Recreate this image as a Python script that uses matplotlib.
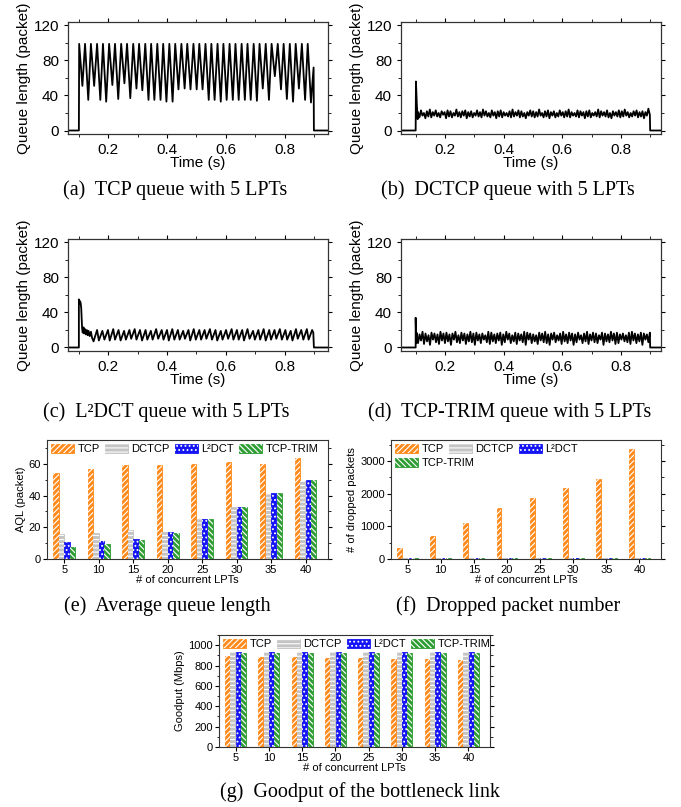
import numpy as np
import matplotlib
matplotlib.use("Agg")
import matplotlib.pyplot as plt
from matplotlib.patches import Patch
from matplotlib.ticker import MultipleLocator

plt.rcParams['font.family'] = ['Liberation Sans', 'DejaVu Sans']
plt.rcParams['hatch.linewidth'] = 0.8

# ---------------- queue traces ----------------
# (a) TCP: sawtooth peaks / troughs
tcp_peak_t = [0.101, 0.121, 0.141, 0.162, 0.182, 0.203, 0.223, 0.244, 0.264, 0.285,
              0.305, 0.326, 0.346, 0.367, 0.387, 0.408, 0.428, 0.449, 0.469, 0.490,
              0.510, 0.531, 0.551, 0.572, 0.592, 0.613, 0.633, 0.654, 0.674, 0.695,
              0.715, 0.736, 0.756, 0.777, 0.797, 0.818, 0.838, 0.859, 0.879]
tcp_peak_q = [99] * 39
tcp_trough_t = [0.112, 0.132, 0.152, 0.173, 0.193, 0.214, 0.234, 0.255, 0.275, 0.296,
                0.316, 0.337, 0.357, 0.378, 0.398, 0.419, 0.439, 0.460, 0.480, 0.501,
                0.521, 0.542, 0.562, 0.583, 0.603, 0.624, 0.644, 0.665, 0.685, 0.706,
                0.726, 0.747, 0.767, 0.788, 0.808, 0.829, 0.849, 0.870, 0.890]
tcp_trough_q = [51, 35, 51, 35, 33, 52, 36, 54, 37, 48, 46, 35, 35, 35, 33, 33, 47, 48, 47, 47,
                47, 35, 35, 33, 35, 35, 35, 35, 35, 34, 48, 35, 62, 47, 36, 33, 48, 35, 32]
tcp_end_t = [0.899, 0.900, 0.960]
tcp_end_q = [72, 0, 0]

# (b) DCTCP
dctcp_head_t = [0.04, 0.100, 0.101, 0.104, 0.107]
dctcp_head_q = [0, 0, 56, 30, 13]
dctcp_band = [int(v) for v in (
    "21 15 23 17 20 14 22 16 24 15 21 17 23 16 20 15 22 18 21 14 23 16 22 15 20 17 24 16 21 15 "
    "22 17 23 14 21 16 22 15 20 17 23 16 21 15 24 17 22 16 20 15 23 17 21 14 22 16 23 15 21 17 "
    "20 16 22 15 24 16 21 17 23 15 22 16 20 14 21 17 23 16 22 15 21 16 24 17 20 15 22 16 23 14 "
    "21 17 22 15 20 16 23 17 21 15 22 16 24 15 21 17 20 16 23 15 22 17 21 14 22 16 23 15 20 17 "
    "21 16 24 15 22 17 21 16 23 15 20 14 22 17 21 16 23 15 22 16 24 17 21 15 20 16 22 17 23 15 "
    "21 16 22 14 21 17 25 18").split()]
dctcp_band_t0, dctcp_band_t1 = 0.108, 0.899
dctcp_tail_t = [0.900, 0.960]
dctcp_tail_q = [0, 0]

# (c) L2DCT
l2_head_t = [0.05, 0.100, 0.100, 0.102, 0.104, 0.106, 0.108, 0.111, 0.113, 0.116, 0.118,
             0.121, 0.124, 0.127, 0.130, 0.133, 0.137, 0.141, 0.145]
l2_head_q = [0, 0, 55, 50, 53, 51, 45, 22, 17, 23, 16, 21, 15, 20, 14, 19, 13, 18, 11]
l2_trough_t = [0.150, 0.168, 0.187, 0.205, 0.223, 0.242, 0.260, 0.278, 0.296, 0.315,
               0.333, 0.351, 0.370, 0.388, 0.406, 0.425, 0.443, 0.461, 0.479, 0.498,
               0.516, 0.534, 0.553, 0.571, 0.589, 0.608, 0.626, 0.644, 0.662, 0.681,
               0.699, 0.717, 0.736, 0.754, 0.772, 0.791, 0.809, 0.827, 0.845, 0.864, 0.882]
l2_trough_q = [7, 8, 9, 8, 9, 8, 9, 10, 9, 8, 9, 9, 10, 9, 8, 9, 9, 10, 8, 9, 9,
               10, 9, 8, 9, 10, 9, 9, 8, 10, 9, 9, 8, 9, 10, 9, 9, 8, 10, 9, 9]
l2_peak_t = [0.162, 0.180, 0.199, 0.217, 0.235, 0.254, 0.272, 0.290, 0.308, 0.327,
             0.345, 0.363, 0.382, 0.400, 0.418, 0.437, 0.455, 0.473, 0.491, 0.510,
             0.528, 0.546, 0.565, 0.583, 0.601, 0.620, 0.638, 0.656, 0.674, 0.693,
             0.711, 0.729, 0.748, 0.766, 0.784, 0.803, 0.821, 0.839, 0.857, 0.876, 0.894]
l2_peak_q = [20, 19, 20, 21, 20, 19, 20, 21, 20, 20, 19, 21, 20, 20, 21, 20, 19, 20, 21, 20, 20,
             21, 20, 19, 20, 21, 20, 20, 21, 19, 20, 21, 20, 20, 21, 20, 19, 21, 20, 21, 20]
l2_tail_t = [0.898, 0.900, 0.960]
l2_tail_q = [17, 0, 0]

# (d) TCP-TRIM
trim_head_t = [0.04, 0.100, 0.100, 0.102]
trim_head_q = [0, 0, 34, 5]
trim_band = [int(v) for v in (
    "17 5 15 8 18 4 16 7 14 3 17 9 16 6 15 4 18 8 16 5 17 7 15 3 16 9 18 6 14 5 "
    "17 8 16 4 15 7 18 6 16 3 17 8 15 5 16 9 14 6 18 4 17 7 15 5 16 8 17 3 15 6 "
    "18 9 16 5 14 7 17 4 16 8 15 6 18 3 17 9 16 5 15 7 14 4 17 8 16 6 18 5 15 3 "
    "16 9 17 6 14 8 16 4 18 7 15 5 17 8 16 3 15 6 17 9 14 5 16 7 18 4 15 8 17 6 "
    "16 5 14 9 17 3 16 7 15 6 18 8 16 4 17 5 15 9 16 7 14 6 17 4 18 8 16 5 15 7 "
    "17 3 16 9 15 6 17").split()]
trim_band_t0, trim_band_t1 = 0.103, 0.899
trim_tail_t = [0.900, 0.960]
trim_tail_q = [0, 0]

# ---------------- bar charts ----------------
lpts = ['5', '10', '15', '20', '25', '30', '35', '40']
schemes = ['TCP', 'DCTCP', 'L²DCT', 'TCP-TRIM']
aql_tcp = [54, 56.5, 59, 59.5, 60, 61, 60, 63.5]
aql_dctcp = [16, 16.5, 18.5, 17, 25.5, 33, 41, 49]
aql_l2dct = [11, 11.5, 12.5, 17, 25.5, 33, 41.5, 49.5]
aql_trim = [7.5, 9.5, 12, 16.5, 25.5, 33, 41.5, 49.5]

drop_tcp = [330, 700, 1100, 1570, 1880, 2190, 2440, 3370]
drop_dctcp = [40, 40, 40, 40, 40, 40, 40, 40]
drop_l2dct = [40, 40, 40, 40, 40, 40, 40, 40]
drop_trim = [35, 35, 35, 35, 35, 35, 35, 35]

gp_tcp = [890, 885, 880, 875, 870, 865, 860, 850]
gp_dctcp = [930, 930, 930, 930, 930, 930, 930, 930]
gp_l2dct = [935, 935, 935, 935, 935, 935, 935, 935]
gp_trim = [925, 925, 925, 925, 925, 925, 925, 925]

colors = ['#FF8A1C', '#C4C4C4', '#1414F5', '#2E9E34']
hatches = ['//////', '----', '....', '\\\\\\\\\\\\']

W, H = 681, 807
fig = plt.figure(figsize=(W / 100, H / 100), dpi=100)


def box(l, t, r, b):
    return [l / W, 1 - b / H, (r - l) / W, (b - t) / H]


def style_ts(ax, xlim):
    ax.set_xlim(*xlim)
    ax.set_ylim(-4, 124)
    ax.xaxis.set_major_locator(MultipleLocator(0.2))
    ax.xaxis.set_minor_locator(MultipleLocator(0.1))
    ax.yaxis.set_major_locator(MultipleLocator(40))
    ax.yaxis.set_minor_locator(MultipleLocator(20))
    ax.tick_params(which='both', direction='out', labelsize=11, top=True, right=True)
    ax.tick_params(which='major', length=3)
    ax.tick_params(which='minor', length=2)
    ax.set_xlabel('Time (s)', fontsize=11, labelpad=-1)
    ax.set_ylabel('Queue length (packet)', fontsize=11, labelpad=2)
    for s in ax.spines.values():
        s.set_linewidth(0.9)
        s.set_color('#333333')


def sawtooth(t0, q0, at, aq, bt, bq, t1, q1):
    xs, ys = list(t0), list(q0)
    for i in range(len(at)):
        xs += [at[i], bt[i]]
        ys += [aq[i], bq[i]]
    return xs + list(t1), ys + list(q1)


def band(t0, q0, vals, ta, tb, t1, q1):
    tt = np.linspace(ta, tb, len(vals))
    return list(t0) + list(tt) + list(t1), list(q0) + list(vals) + list(q1)


lw = 1.3
# (a)
ax = fig.add_axes(box(68, 22, 328, 134))
x, y = sawtooth([0.04, 0.100], [0, 0], tcp_peak_t, tcp_peak_q, tcp_trough_t, tcp_trough_q,
                tcp_end_t, tcp_end_q)
ax.plot(x, y, color='black', lw=lw)
style_ts(ax, (0.063, 0.948))

# (b)
ax = fig.add_axes(box(401, 22, 661, 134))
x, y = band(dctcp_head_t, dctcp_head_q, dctcp_band, dctcp_band_t0, dctcp_band_t1,
            dctcp_tail_t, dctcp_tail_q)
ax.plot(x, y, color='black', lw=lw)
style_ts(ax, (0.05, 0.937))

# (c)
ax = fig.add_axes(box(68, 239, 328, 351))
x, y = sawtooth(l2_head_t, l2_head_q, l2_trough_t, l2_trough_q, l2_peak_t, l2_peak_q,
                l2_tail_t, l2_tail_q)
ax.plot(x, y, color='black', lw=lw)
style_ts(ax, (0.063, 0.948))

# (d)
ax = fig.add_axes(box(401, 239, 661, 351))
x, y = band(trim_head_t, trim_head_q, trim_band, trim_band_t0, trim_band_t1,
            trim_tail_t, trim_tail_q)
ax.plot(x, y, color='black', lw=lw)
style_ts(ax, (0.05, 0.937))

leg_kw = dict(frameon=False, fontsize=8, handlelength=2.1, handleheight=0.9,
              handletextpad=0.3, columnspacing=0.45, borderaxespad=0.25, borderpad=0.1,
              labelspacing=0.2, loc='upper left')


def bars(ax, series, ymax, ymaj, ymin, ylabel, split):
    idx = np.arange(len(lpts))
    offs = [-0.24, -0.08, 0.08, 0.24]
    handles = []
    for vals, c, h, o in zip(series, colors, hatches, offs):
        ax.bar(idx + o, vals, 0.15, color=c, edgecolor=c, lw=0.6, zorder=2)
        ax.bar(idx + o, vals, 0.15, facecolor='none', edgecolor='white', hatch=h, lw=0, zorder=3)
        handles.append((Patch(facecolor=c, edgecolor=c, lw=0.6),
                        Patch(facecolor='none', edgecolor='white', hatch=h, lw=0)))
    ax.set_xlim(-0.5, 7.65)
    ax.set_ylim(0, ymax)
    ax.set_xticks(idx)
    ax.set_xticklabels(lpts)
    ax.yaxis.set_major_locator(MultipleLocator(ymaj))
    ax.yaxis.set_minor_locator(MultipleLocator(ymin))
    ax.tick_params(which='both', labelsize=8, right=True, direction='out')
    ax.tick_params(axis='x', which='major', length=3, pad=1.5)
    ax.tick_params(axis='y', which='major', length=3, pad=1.5)
    ax.tick_params(which='minor', length=1.8)
    ax.set_xlabel('# of concurrent LPTs', fontsize=8, labelpad=0)
    ax.set_ylabel(ylabel, fontsize=8, labelpad=2)
    for s in ax.spines.values():
        s.set_linewidth(0.8)
        s.set_color('#333333')
    if split:
        lg = ax.legend(handles[:3], schemes[:3], ncol=3, bbox_to_anchor=(0.0, 1.0), **leg_kw)
        ax.add_artist(lg)
        ax.legend(handles[3:], schemes[3:], ncol=1, bbox_to_anchor=(0.0, 0.885), **leg_kw)
    else:
        ax.legend(handles, schemes, ncol=4, bbox_to_anchor=(0.0, 1.0), **leg_kw)


ax = fig.add_axes(box(47, 440, 328, 559))
bars(ax, [aql_tcp, aql_dctcp, aql_l2dct, aql_trim], 75, 20, 10, 'AQL (packet)', False)
ax = fig.add_axes(box(391, 440, 661, 559))
bars(ax, [drop_tcp, drop_dctcp, drop_l2dct, drop_trim], 3650, 1000, 500,
     '# of dropped packets', True)
ax = fig.add_axes(box(219, 635, 490, 747))
bars(ax, [gp_tcp, gp_dctcp, gp_l2dct, gp_trim], 1100, 200, 100, 'Goodput (Mbps)', False)

captions = [
    (175, 190, '(a)  TCP queue with 5 LPTs'),
    (508, 190, '(b)  DCTCP queue with 5 LPTs'),
    (166, 412, '(c)  L²DCT queue with 5 LPTs'),
    (510, 412, '(d)  TCP-TRIM queue with 5 LPTs'),
    (167, 606, '(e)  Average queue length'),
    (508, 606, '(f)  Dropped packet number'),
    (360, 792, '(g)  Goodput of the bottleneck link'),
]
for cx, cy, txt in captions:
    fig.text(cx / W, 1 - cy / H, txt, ha='center', va='center', fontsize=14.5,
             family=['Liberation Serif', 'DejaVu Serif'])

fig.savefig('out.png', dpi=100)
